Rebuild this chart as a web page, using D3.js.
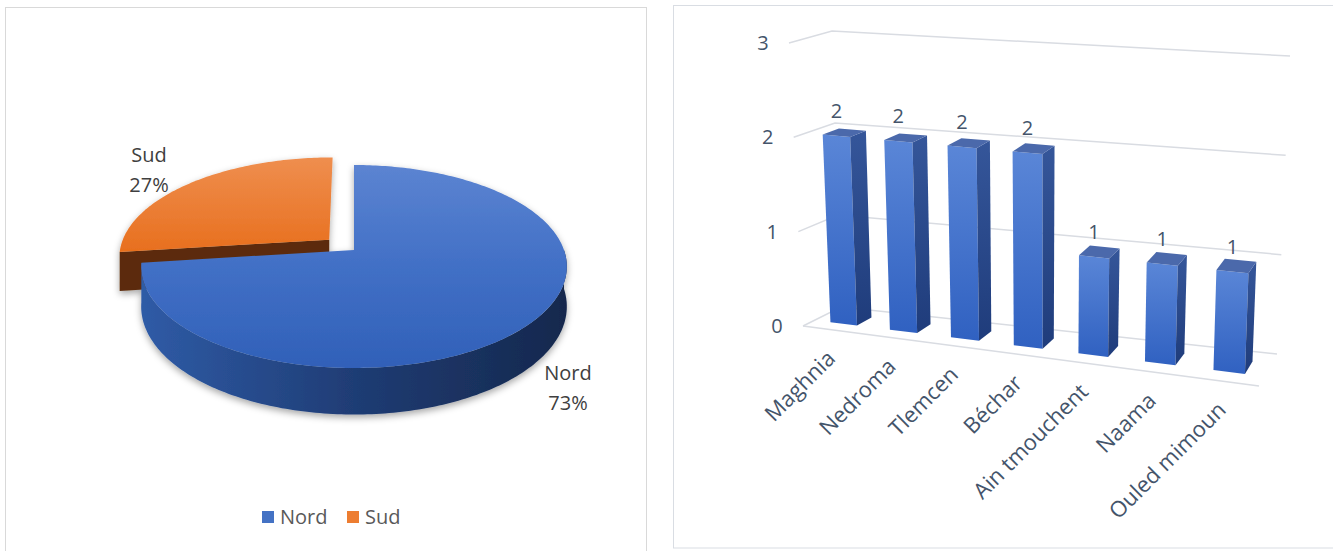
<!DOCTYPE html>
<html><head><meta charset="utf-8">
<script src="https://cdn.jsdelivr.net/npm/d3@7"></script>
<style>body{margin:0;background:#fff}svg{display:block}text{font-family:"Open Sans",sans-serif}</style>
</head><body><svg id="c" width="1333" height="551"></svg>
<script>
// ---------- DATA ----------
const pieCategories = ["Nord", "Sud"];
const pieValues = [73, 27];
const pieColors = ["#4472c4", "#ed7d31"];
const barCategories = ["Maghnia", "Nedroma", "Tlemcen", "Béchar", "Ain tmouchent", "Naama", "Ouled mimoun"];
const barValues = [2, 2, 2, 2, 1, 1, 1];
const yTickValues = [0, 1, 2, 3];

const svg = d3.select("#c");
const defs = svg.append("defs");
function grad(id, x1, y1, x2, y2, stops) {
  const gr = defs.append("linearGradient").attr("id", id)
    .attr("gradientUnits", "userSpaceOnUse")
    .attr("x1", x1).attr("y1", y1).attr("x2", x2).attr("y2", y2);
  stops.forEach(s => gr.append("stop").attr("offset", s[0]).attr("stop-color", s[1]));
}
function gradBox(id, stops) {
  const gr = defs.append("linearGradient").attr("id", id)
    .attr("x1", 0).attr("y1", 0).attr("x2", 0).attr("y2", 1);
  stops.forEach(s => gr.append("stop").attr("offset", s[0]).attr("stop-color", s[1]));
}
const flt = defs.append("filter").attr("id", "shadow").attr("x", "-20%").attr("y", "-20%").attr("width", "140%").attr("height", "140%");
flt.append("feDropShadow").attr("dx", 0).attr("dy", 3).attr("stdDeviation", 3.5).attr("flood-color", "#000").attr("flood-opacity", 0.35);

// ---------- PANELS ----------
svg.append("rect").attr("x", 5.5).attr("y", 7.5).attr("width", 641).attr("height", 560)
  .attr("fill", "none").attr("stroke", "#d9d9d9");
svg.append("rect").attr("x", 673.5).attr("y", 5.5).attr("width", 700).attr("height", 542.5)
  .attr("fill", "none").attr("stroke", "#d9dde3");

// ---------- 3D PIE ----------
const PC = { cx: 354, cy: 250, R: 210, B: 98.8, k: 0.1625, H: 39, explode: [0, 0.16] };
function pp(u, v, z) {
  const s = 1 / (1 - PC.k * v);
  return [PC.cx + PC.R * u * s, PC.cy + PC.B * v * s + PC.H * z * s];
}
function arcPts(a0, a1, ox, oy, z) {
  const n = Math.max(2, Math.ceil((a1 - a0) / (Math.PI / 180)));
  const pts = [];
  for (let i = 0; i <= n; i++) {
    const a = a0 + (a1 - a0) * i / n;
    pts.push(pp(Math.sin(a) + ox, -Math.cos(a) + oy, z));
  }
  return pts;
}
const line = d3.line();
const arcs = d3.pie().sort(null).value(d => d)(pieValues);

grad("nordTop", 0, 160, 0, 370, [[0, "#5d85d2"], [0.5, "#4270c6"], [1, "#3060b8"]]);
grad("nordSide", 143, 0, 568, 0, [[0, "#2f5ba6"], [0.5, "#1f3c74"], [1, "#15284d"]]);
grad("sudTop", 0, 155, 0, 250, [[0, "#ef8f50"], [1, "#e8701f"]]);

const pieG = svg.append("g").attr("filter", "url(#shadow)");
// draw Sud (back, exploded) first, then Nord
[1, 0].forEach(i => {
  const a = arcs[i];
  const a0 = a.startAngle, a1 = a.endAngle;
  const mid = (a0 + a1) / 2;
  const e = PC.explode[i];
  const ox = e * Math.sin(mid), oy = -e * Math.cos(mid);
  const g = pieG.append("g");
  if (i === 1) {
    // radial face at start angle (visible, dark)
    const face = [pp(ox, oy, 0), pp(Math.sin(a0) + ox, -Math.cos(a0) + oy, 0),
                  pp(Math.sin(a0) + ox, -Math.cos(a0) + oy, 1), pp(ox, oy, 1)];
    g.append("path").attr("d", line(face) + "Z").attr("fill", "#5c2c0b");
    const top = [pp(ox, oy, 0)].concat(arcPts(a0, a1, ox, oy, 0));
    g.append("path").attr("d", line(top) + "Z").attr("fill", "url(#sudTop)");
  } else {
    const s0 = Math.max(a0, Math.PI / 2);
    const side = arcPts(s0, a1, ox, oy, 0).concat(arcPts(s0, a1, ox, oy, 1).reverse());
    g.append("path").attr("d", line(side) + "Z").attr("fill", "url(#nordSide)");
    const top = [pp(ox, oy, 0)].concat(arcPts(a0, a1, ox, oy, 0));
    g.append("path").attr("d", line(top) + "Z").attr("fill", "url(#nordTop)");
  }
});

// pie data labels
const pieLabelPos = [[568, 380], [149, 162]];
arcs.forEach((a, i) => {
  const pct = Math.round(100 * a.value / d3.sum(pieValues)) + "%";
  const t = svg.append("text").attr("text-anchor", "middle").attr("font-size", 20).attr("fill", "#404040")
    .attr("x", pieLabelPos[i][0]).attr("y", pieLabelPos[i][1]);
  t.append("tspan").attr("x", pieLabelPos[i][0]).text(pieCategories[i]);
  t.append("tspan").attr("x", pieLabelPos[i][0]).attr("dy", 30).text(pct);
});

// legend
const legX = [262, 347];
pieCategories.forEach((c, i) => {
  svg.append("rect").attr("x", legX[i]).attr("y", 511).attr("width", 12).attr("height", 12).attr("fill", pieColors[i]);
  svg.append("text").attr("x", legX[i] + 18).attr("y", 524).attr("font-size", 20).attr("fill", "#595959").text(c);
});

// ---------- 3D COLUMN CHART ----------
const C = {
  FL0: [803, 326], FL3: [789, 43], FR0: [1259, 386], FR3: [1270, 81],
  BL0: [841, 307], BL3: [832, 31], BR0: [1277, 354], BR3: [1290, 56]
};
const x = d3.scaleBand().domain(barCategories).range([0, 1]).paddingInner(0.55).paddingOuter(0.275);
const y = d3.scaleLinear().domain([0, 3]).range([0, 1]);
const persp = 0.905;
const gx = t => t * persp / (1 + (persp - 1) * t);
const lerp2 = (a, b, f) => [a[0] + (b[0] - a[0]) * f, a[1] + (b[1] - a[1]) * f];
function P(t, w, d) {
  const g = gx(t);
  const front = lerp2(lerp2(C.FL0, C.FR0, g), lerp2(C.FL3, C.FR3, g), w);
  const back = lerp2(lerp2(C.BL0, C.BR0, g), lerp2(C.BL3, C.BR3, g), w);
  return lerp2(front, back, d);
}
const gridG = svg.append("g").attr("fill", "none").attr("stroke", "#d9dce2").attr("stroke-width", 1.5);
yTickValues.forEach(v => {
  const w = y(v);
  gridG.append("path").attr("d", line([P(0, w, 0), P(0, w, 1), P(1, w, 1)]));
});
gridG.append("path").attr("d", line([P(0, 0, 0), P(1, 0, 0)]));

// y tick labels
yTickValues.forEach(v => {
  const p = P(0, y(v), 0);
  svg.append("text").attr("x", p[0] - 26).attr("y", p[1] + 7).attr("text-anchor", "middle")
    .attr("font-size", 20).attr("fill", "#44546a").text(v);
});

gradBox("barFront", [[0, "#5a86d7"], [1, "#3061c1"]]);
gradBox("barSide", [[0, "#35569a"], [1, "#1f3c7b"]]);
const d0 = 0.3, d1 = 0.7;
const barsG = svg.append("g");
barCategories.forEach((c, i) => {
  const t0 = x(c), t1 = t0 + x.bandwidth(), w = y(barValues[i]);
  const g = barsG.append("g");
  g.append("path").attr("d", line([P(t0, 0, d0), P(t1, 0, d0), P(t1, w, d0), P(t0, w, d0)]) + "Z").attr("fill", "url(#barFront)");
  g.append("path").attr("d", line([P(t1, 0, d0), P(t1, 0, d1), P(t1, w, d1), P(t1, w, d0)]) + "Z").attr("fill", "url(#barSide)");
  g.append("path").attr("d", line([P(t0, w, d0), P(t1, w, d0), P(t1, w, d1), P(t0, w, d1)]) + "Z").attr("fill", "#4b69ab");
  const tc = t0 + x.bandwidth() / 2;
  const lp = P(tc, w, d0);
  svg.append("text").attr("x", lp[0]).attr("y", lp[1] - 18).attr("text-anchor", "middle")
    .attr("font-size", 20).attr("fill", "#44546a").text(barValues[i]);
  const cp = P(x(c) + x.bandwidth() / 2, 0, 0);
  svg.append("text").attr("transform", `translate(${cp[0] + 4},${cp[1] + 30}) rotate(-45)`)
    .attr("text-anchor", "end").attr("font-size", 22).attr("fill", "#44546a").text(c);
});
</script></body></html>
